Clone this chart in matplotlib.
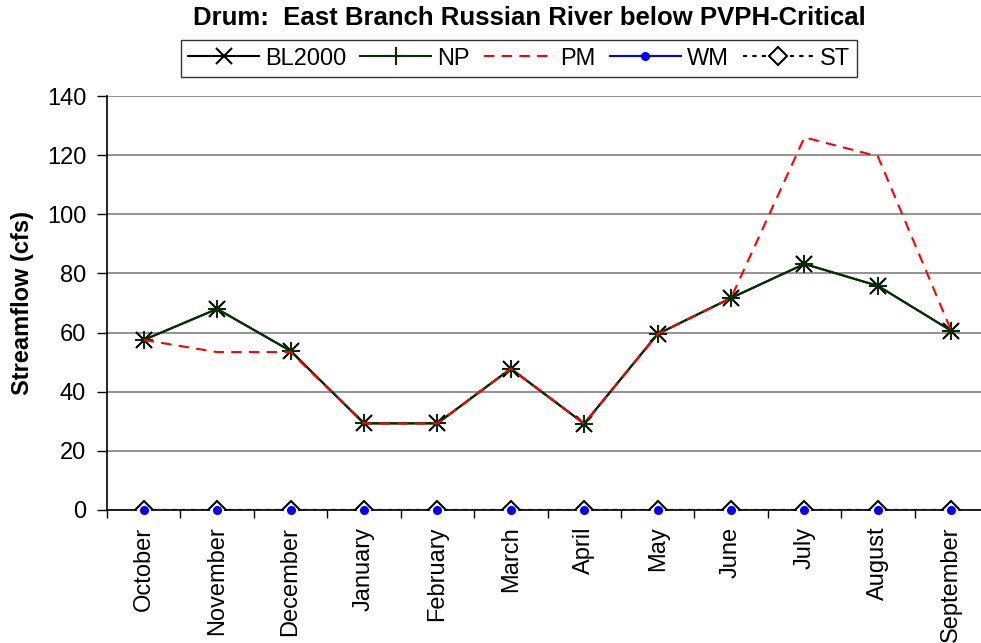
import matplotlib
matplotlib.use("Agg")
import matplotlib.pyplot as plt
import numpy as np

plt.rcParams['font.family'] = ['Liberation Sans', 'DejaVu Sans']

months = ['October', 'November', 'December', 'January', 'February', 'March',
          'April', 'May', 'June', 'July', 'August', 'September']
bl2000 = [57.5, 68, 53.8, 29.3, 29.3, 47.8, 29.2, 59.5, 71.7, 83.2, 75.8, 60.6]
np_flow = [57.5, 68, 53.8, 29.3, 29.3, 47.8, 29.2, 59.5, 71.7, 83.2, 75.8, 60.6]
pm = [57.5, 53.4, 53.4, 29.3, 29.3, 47.8, 29.2, 59.5, 71.7, 126, 119.6, 60.6]
wm = [0] * 12
st = [0] * 12
yticks = [0, 20, 40, 60, 80, 100, 120, 140]

fig = plt.figure(figsize=(9.81, 6.43), dpi=100)
ax = fig.add_axes([107 / 981, 1 - 510 / 643, 881 / 981, 414 / 643])
x = np.arange(len(months))

ax.plot(x, bl2000, color='black', lw=1.5, marker='x', ms=11, mew=1.5,
        label='BL2000', zorder=3)
ax.plot(x, np_flow, color='#003300', lw=1.5, marker='+', ms=13, mew=1.5,
        label='NP', zorder=4)
ax.plot(x, pm, color='#ff0000', lw=1.5, ls=(0, (5, 3.5)), label='PM', zorder=5)
ax.plot(x, wm, color='#0000ff', lw=1.5, marker='o', ms=5.5, label='WM', zorder=5)
ax.plot(x, st, color='black', lw=1.5, ls=(0, (2, 2.5)), marker='D', ms=9,
        mfc='white', mec='black', mew=1.5, label='ST', zorder=6)
# blue dots show through the diamonds
ax.plot(x, wm, ls='none', marker='o', ms=5.5, color='#0000ff', zorder=7,
        clip_on=False)

ax.set_xlim(-0.5, 11.5)
ax.set_ylim(0, 140)
ax.set_yticks(yticks)
ax.set_yticklabels([str(v) for v in yticks], fontsize=17)
ax.set_xticks(x)
ax.set_xticklabels(months, rotation=90, fontsize=17, va='top')
ax.set_xticks(np.arange(-0.5, 12, 1), minor=True)
ax.tick_params(axis='x', which='major', length=0, pad=12)
ax.tick_params(axis='x', which='minor', length=6, width=1, direction='out')
ax.tick_params(axis='y', length=7, width=1, direction='out', pad=8)

ax.yaxis.grid(True, color='#808080', lw=1.2)
ax.set_axisbelow(True)
for s in ['top', 'right']:
    ax.spines[s].set_visible(False)
ax.spines['left'].set_linewidth(1.2)
ax.spines['bottom'].set_linewidth(1.2)
for s in ax.spines.values():
    s.set_zorder(2)

ax.set_ylabel('Streamflow (cfs)', fontsize=17, fontweight='bold', labelpad=9)

fig.text(0.540, 0.972, 'Drum:  East Branch Russian River below PVPH-Critical',
         ha='center', va='center', fontsize=18.5, fontweight='bold')

leg = fig.legend(loc='center', bbox_to_anchor=(0.529, 0.909), ncol=5,
                 fontsize=17, frameon=True, fancybox=False, handlelength=3.0,
                 handletextpad=0.25, columnspacing=0.6, borderpad=0.3,
                 borderaxespad=0, edgecolor='black')
leg.get_frame().set_linewidth(1.0)

fig.savefig('out.png', dpi=100)
